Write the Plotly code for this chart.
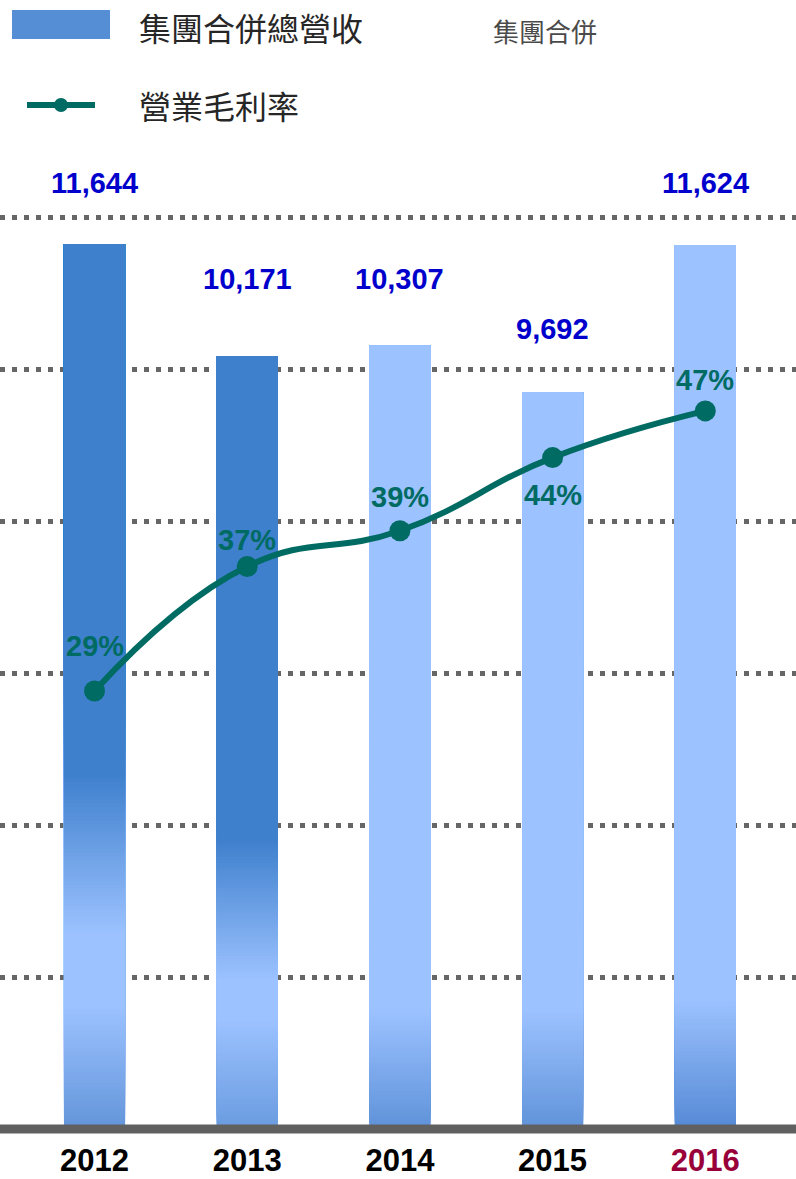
import plotly.graph_objects as go

# ---------------- data ----------------
years = ["2012", "2013", "2014", "2015", "2016"]
revenue = [11644, 10171, 10307, 9692, 11624]          # 集團合併總營收
gross_margin = [29, 37, 39.3, 44, 47]                   # 營業毛利率 (%)
gross_margin_text = ["29%", "37%", "39%", "44%", "47%"]
tick_labels = ["2012", "2013", "2014", "2015", "2016"]

# ---------------- style ----------------
W, H = 796, 1179
M_T, M_B = 150, 50
PLOT_H = H - M_T - M_B

DARK = "#3F80CD"
LIGHT = "#9CC2FF"
TEAL = "#006B63"
BLUE_TXT = "#0000CC"

# gradient stops per bar: (fraction of bar height from bottom, colour)
bar_gradients = [
    [(0.0, "#6395DA"), (0.138, LIGHT), (0.221, LIGHT), (0.40, DARK), (1.0, DARK)],
    [(0.0, "#6A9BE0"), (0.141, LIGHT), (0.193, LIGHT), (0.374, DARK), (1.0, DARK)],
    [(0.0, "#5F92DA"), (0.152, LIGHT), (1.0, LIGHT)],
    [(0.0, "#6093DA"), (0.161, LIGHT), (1.0, LIGHT)],
    [(0.0, "#5589D5"), (0.146, LIGHT), (1.0, LIGHT)],
]
value_label_shift = [61, 77, 67, 63, 63]
pct_label_shift = [45, 27, 34, -37, 31]


def hex2rgb(h):
    h = h.lstrip("#")
    return tuple(int(h[i:i + 2], 16) for i in (0, 2, 4))


def interp(stops, f):
    for (f0, c0), (f1, c1) in zip(stops[:-1], stops[1:]):
        if f0 <= f <= f1:
            t = 0 if f1 == f0 else (f - f0) / (f1 - f0)
            a, b = hex2rgb(c0), hex2rgb(c1)
            r = [round(a[i] + (b[i] - a[i]) * t) for i in range(3)]
            return "rgb(%d,%d,%d)" % tuple(r)
    return stops[-1][1]


fig = go.Figure()

# gradient bars: layered bars, each drawn from its start fraction to the top
N = 250
for k in range(N):
    f = k / N
    fig.add_trace(go.Bar(
        x=years,
        y=[v * (1 - f) for v in revenue],
        base=[v * f for v in revenue],
        width=0.40,
        marker=dict(color=[interp(g, f + 0.5 / N) for g in bar_gradients], line=dict(width=0)),
        hoverinfo="skip" if k else "y",
        showlegend=False,
        name="集團合併總營收",
    ))

fig.add_trace(go.Scatter(
    x=years, y=gross_margin, yaxis="y2", mode="lines+markers",
    line=dict(color=TEAL, width=6, shape="spline", smoothing=1.3),
    marker=dict(color=TEAL, size=21),
    name="營業毛利率", showlegend=False,
))

# ---------------- axes ----------------
y_scale = 152 / 2000  # px per unit
y_max = PLOT_H / y_scale

fig.update_layout(
    width=W, height=H,
    margin=dict(l=0, r=0, t=M_T, b=M_B, pad=0),
    paper_bgcolor="white", plot_bgcolor="white",
    barmode="overlay",
    showlegend=False,
    xaxis=dict(
        type="category",
        range=[-0.619, 4.594],
        tickmode="array", tickvals=years,
        ticktext=["<b>%s</b>" % t for t in tick_labels[:-1]]
                 + ["<b><span style='color:#99003A'>%s</span></b>" % tick_labels[-1]],
        tickfont=dict(family="Liberation Sans, Arial", size=31, color="black"),
        ticks="", showline=False, showgrid=False, zeroline=False,
        ticklabelstandoff=10, automargin=False,
    ),
    yaxis=dict(
        range=[0, y_max], tick0=0, dtick=2000,
        showgrid=True, gridcolor="#666666", gridwidth=5, griddash="5px,7px",
        showticklabels=False, ticks="", zeroline=False, showline=False,
        automargin=False,
    ),
    yaxis2=dict(
        overlaying="y", range=[0.85, 63.77], visible=False,
        showgrid=False, zeroline=False, automargin=False,
    ),
)


def px_x(x):
    return x / W


def px_y(y):
    return (H - M_B - y) / PLOT_H


shapes = [
    # baseline
    dict(type="line", xref="paper", yref="paper", x0=0, x1=1, y0=0, y1=0,
         line=dict(color="#606060", width=9), layer="above"),
    # legend swatch (bars)
    dict(type="rect", xref="paper", yref="paper", x0=px_x(12), x1=px_x(110),
         y0=px_y(39), y1=px_y(10), fillcolor="#558ED5", line=dict(width=0)),
    # legend line
    dict(type="line", xref="paper", yref="paper", x0=px_x(27), x1=px_x(95),
         y0=px_y(105), y1=px_y(105), line=dict(color=TEAL, width=6)),
    dict(type="circle", xref="paper", yref="paper", x0=px_x(54), x1=px_x(68),
         y0=px_y(112), y1=px_y(98), fillcolor=TEAL, line=dict(width=0)),
]
fig.update_layout(shapes=shapes)

annotations = []
for i, (v, s) in enumerate(zip(revenue, value_label_shift)):
    annotations.append(dict(
        x=i, y=v, xref="x", yref="y", yshift=s, showarrow=False,
        text="<b>{:,}</b>".format(v), yanchor="middle",
        font=dict(family="Liberation Sans, Arial", size=29, color=BLUE_TXT),
    ))
for i, (v, t, s) in enumerate(zip(gross_margin, gross_margin_text, pct_label_shift)):
    annotations.append(dict(
        x=i, y=v, xref="x", yref="y2", yshift=s, showarrow=False,
        text="<b>%s</b>" % t, yanchor="middle",
        font=dict(family="Liberation Sans, Arial", size=29, color=TEAL),
    ))

annotations += [
    dict(x=px_x(137), y=px_y(27), xref="paper", yref="paper", xanchor="left",
         yanchor="middle", showarrow=False, text="集團合併總營收",
         font=dict(family="Noto Sans CJK TC", size=32, color="#262626")),
    dict(x=px_x(137), y=px_y(105), xref="paper", yref="paper", xanchor="left",
         yanchor="middle", showarrow=False, text="營業毛利率",
         font=dict(family="Noto Sans CJK TC", size=32, color="#262626")),
    dict(x=px_x(545), y=px_y(30), xref="paper", yref="paper", xanchor="center",
         yanchor="middle", showarrow=False, text="集團合併",
         font=dict(family="Noto Sans CJK TC", size=26, color="#4A4A4A")),
]
fig.update_layout(annotations=annotations)

fig.write_html("out.html")
